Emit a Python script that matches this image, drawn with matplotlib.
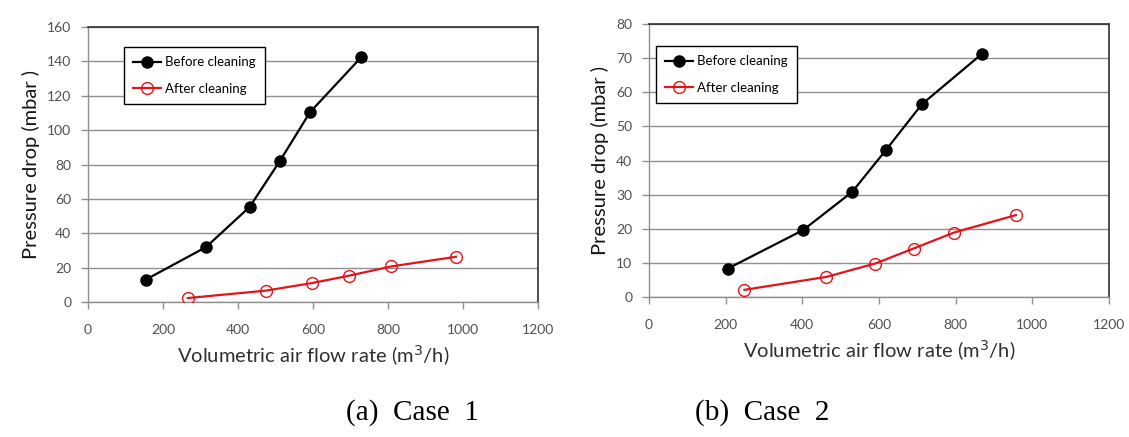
import numpy as np
import matplotlib
matplotlib.use("Agg")
import matplotlib.pyplot as plt

# case 1
c1_before_x = [154, 315, 431, 511, 592, 729]
c1_before_y = [13, 32, 55.3, 81.8, 110.4, 142.5]
c1_after_x = [266, 474, 597, 696, 809, 981]
c1_after_y = [2.3, 6.6, 11, 15.3, 20.7, 26.3]

# case 2
c2_before_x = [205, 402, 530, 619, 712, 868]
c2_before_y = [8.3, 19.6, 30.8, 43.2, 56.5, 71.2]
c2_after_x = [249, 463, 590, 690, 796, 957]
c2_after_y = [2.1, 5.9, 9.8, 14.2, 18.9, 24.0]

c1_yticks = [0, 20, 40, 60, 80, 100, 120, 140, 160]
c2_yticks = [0, 10, 20, 30, 40, 50, 60, 70, 80]
xticks = [0, 200, 400, 600, 800, 1000, 1200]

sans = ['Lato', 'DejaVu Sans']
RED = '#e2141a'
GRID = '#8f8f8f'
TICKC = '#505050'

fig = plt.figure(figsize=(11.29, 4.37), dpi=100)

def panel(rect, bx, by, ax_, ay, yticks, legpos):
    ax = fig.add_axes(rect)
    ax.plot(bx, by, color='black', lw=1.6, marker='o', ms=8,
            mfc='black', mec='black', label='Before cleaning', zorder=3)
    ax.plot(ax_, ay, color=RED, lw=1.6, marker='o', ms=8.5,
            mfc='none', mec=RED, mew=1.0, label='After cleaning', zorder=3)
    ax.set_xlim(0, 1200)
    ax.set_ylim(0, yticks[-1])
    ax.set_xticks(xticks)
    ax.set_yticks(yticks)
    ax.yaxis.grid(True, color=GRID, lw=1.0)
    ax.set_axisbelow(True)
    for s in ['top', 'right']:
        ax.spines[s].set_color('#303030')
        ax.spines[s].set_linewidth(1.2)
    for s in ['left', 'bottom']:
        ax.spines[s].set_color(GRID)
        ax.spines[s].set_linewidth(1.0)
    ax.tick_params(axis='both', direction='out', length=5, width=1,
                   color=GRID, labelcolor=TICKC)
    ax.tick_params(axis='x', pad=11)
    ax.tick_params(axis='y', pad=7)
    for lab in ax.get_xticklabels() + ax.get_yticklabels():
        lab.set_family(sans)
        lab.set_fontsize(10)
    ax.set_xlabel('Volumetric air flow rate (m$^3$/h)', family=sans,
                  fontsize=14.5, color='#303030', labelpad=5)
    ax.set_ylabel('Pressure drop (mbar )', family=sans, fontsize=14.5,
                  color='#151515', labelpad=5)
    leg = ax.legend(loc='upper left', bbox_to_anchor=legpos, frameon=True,
                    fancybox=False, edgecolor='black', framealpha=1,
                    prop={'family': sans, 'size': 9.5}, handlelength=2.1,
                    handletextpad=0.3, labelspacing=1.1, borderpad=0.7,
                    borderaxespad=0)
    leg.get_frame().set_linewidth(1.0)
    return ax

panel([88/1129, 135/437, 450/1129, 275/437],
      c1_before_x, c1_before_y, c1_after_x, c1_after_y, c1_yticks, (0.08, 0.927))
panel([649/1129, 140/437, 460/1129, 273/437],
      c2_before_x, c2_before_y, c2_after_x, c2_after_y, c2_yticks, (0.015, 0.919))

fig.text(412/1129, 24/437, '(a)  Case  1', family='Liberation Serif',
         fontsize=21, ha='center', va='center')
fig.text(762/1129, 24/437, '(b)  Case  2', family='Liberation Serif',
         fontsize=21, ha='center', va='center')

fig.savefig('out.png', dpi=100)
